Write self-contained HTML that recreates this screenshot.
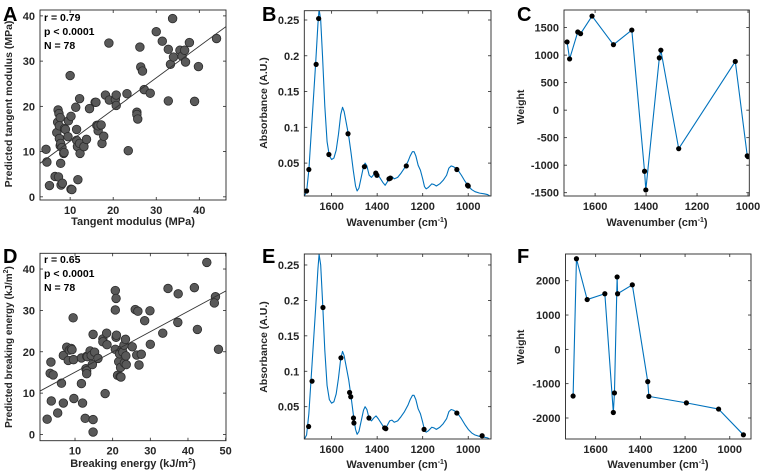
<!DOCTYPE html>
<html><head><meta charset="utf-8"><style>
html,body{margin:0;padding:0;background:#fff;}
svg{display:block;font-family:"Liberation Sans",Arial,sans-serif;}
.tk{font-size:11px;font-weight:bold;fill:#262626;}
.lab{font-size:11px;font-weight:bold;fill:#262626;}
.ylab{font-size:10.5px;font-weight:bold;fill:#262626;}
.pl{font-size:20px;font-weight:bold;fill:#000;}
.st{font-size:10.5px;font-weight:bold;fill:#000;}
</style></head><body>
<svg id="fig" width="760" height="475" viewBox="0 0 760 475">
<text class="pl" x="3" y="21">A</text>
<text class="pl" x="262" y="21">B</text>
<text class="pl" x="517" y="21">C</text>
<text class="pl" x="3" y="263">D</text>
<text class="pl" x="262" y="263">E</text>
<text class="pl" x="517" y="263">F</text>

<text class="ylab" transform="translate(12,104) rotate(-90)" text-anchor="middle">Predicted tangent modulus (MPa)</text>
<text class="lab" x="133" y="225" text-anchor="middle">Tangent modulus (MPa)</text>
<text class="st" x="44" y="21">r = 0.79</text>
<text class="st" x="44" y="35">p &lt; 0.0001</text>
<text class="st" x="44" y="49">N = 78</text>

<text class="ylab" style="font-size:10px" transform="translate(12,347) rotate(-90)" text-anchor="middle">Predicted breaking energy (kJ/m<tspan dy="-4" font-size="7">2</tspan><tspan dy="4">)</tspan></text>
<text class="lab" x="133" y="467" text-anchor="middle">Breaking energy (kJ/m<tspan dy="-4" font-size="7">2</tspan><tspan dy="4">)</tspan></text>
<text class="st" x="44" y="263">r = 0.65</text>
<text class="st" x="44" y="277">p &lt; 0.0001</text>
<text class="st" x="44" y="291">N = 78</text>

<text class="ylab" transform="translate(267,103) rotate(-90)" text-anchor="middle">Absorbance (A.U.)</text>
<text class="lab" x="397" y="226" text-anchor="middle">Wavenumber (cm<tspan dy="-4" font-size="7">-1</tspan><tspan dy="4">)</tspan></text>
<text class="ylab" transform="translate(267,347) rotate(-90)" text-anchor="middle">Absorbance (A.U.)</text>
<text class="lab" x="397" y="468" text-anchor="middle">Wavenumber (cm<tspan dy="-4" font-size="7">-1</tspan><tspan dy="4">)</tspan></text>

<text class="ylab" transform="translate(524,107) rotate(-90)" text-anchor="middle">Weight</text>
<text class="lab" x="657" y="226" text-anchor="middle">Wavenumber (cm<tspan dy="-4" font-size="7">-1</tspan><tspan dy="4">)</tspan></text>
<text class="ylab" transform="translate(524,347) rotate(-90)" text-anchor="middle">Weight</text>
<text class="lab" x="658" y="468" text-anchor="middle">Wavenumber (cm<tspan dy="-4" font-size="7">-1</tspan><tspan dy="4">)</tspan></text>
</svg>
<script>
// ---- data ----
const aX = [4.4,4.6,5.2,6.5,7.3,6.9,7.1,7.2,7.4,7.7,7.5,7.5,7.7,7.8,8.1,7.8,7.9,8.2,8.5,8.7,8.9,8.6,9.6,10,10.2,9.5,10.2,10.4,11.3,11.5,11.5,11.7,11.8,12.2,12.2,12.3,13.2,13.8,14.5,15.8,16,16.2,16.5,16.5,17.2,17.4,17.8,18.2,19,19.1,20.5,20.7,20.7,23.2,23.5,25.5,25.5,25.7,26.2,26.4,26.8,27.2,28.6,30,31.4,32.8,32.8,33.3,34,35.5,36,36.6,36.8,37.7,38.9,39.8,44,33.8];
const aY = [10.5,7.7,2.5,4.5,4.4,14.2,16.5,19.2,18.4,17.5,15.7,12.9,11.3,11.8,10.9,7.4,2.6,3,9.6,15.1,14.9,9.8,16.8,26.8,17.8,13.3,1.7,1.6,19.8,14.9,12.5,11.1,3.8,21.7,11.8,9.6,11.1,12.7,19.5,20.9,20.9,15.8,14.6,15.7,15.9,11.8,13.4,22.5,34,21.4,21.5,22.5,20.2,22.8,10.2,18.7,18.2,17.2,33.1,28.7,27.8,23.7,22.9,36.5,34.4,32.6,21.2,29.3,30.9,32.4,31.1,32.4,29.8,34.1,21.1,28.8,35,39.4];
const aFit = [0.70, 5.3];
const dX = [2.6,3.4,3.6,3.7,4.2,5.4,6.4,6.9,6.9,7.8,8.2,8.5,9.0,9.2,9.5,9.7,9.6,11.7,11.7,12,12.7,12.9,13.1,13.1,13.1,13.3,14,14.3,14.6,14.8,14.8,14.8,15.2,16.1,18,17.4,17.4,18.4,18.5,20.7,20.9,20.7,20.7,20.9,21,21.3,21.6,21.8,22,22.1,22.2,22.5,22.7,23,23.1,23.4,23.6,23.5,25.2,26,26.4,26.7,27,27.6,28.5,29.9,30,33.3,34.7,37.3,37.4,41.7,42.5,47.3,45,47,48.1];
const dY = [3.7,14.8,17.5,8.1,14.4,5.2,12.4,7.6,19.1,21.1,17.9,20.4,20.8,20.5,28.2,8.7,18.1,18.5,12.3,7.6,3.9,15.9,15.4,14.7,18.9,18.8,20.2,19.1,16.9,24.2,3.6,0.6,19.9,18.4,9.9,23.1,22.4,24.5,21.7,34.8,32.9,30.1,20.6,23.5,24,14.3,17.6,19.5,14,16.2,13.9,20.6,19.9,21.6,17.3,23,16.9,19,21.2,30.2,19.2,29.8,16.8,19.4,27.5,29.9,21.8,24.5,35.3,27.1,34,35.5,25.4,33.3,41.6,31.8,20.6];
const dFit = [0.49, 10.16];
const specWn = [1720,1710,1700,1690,1680,1670,1660,1655,1648,1640,1630,1620,1610,1600,1590,1580,1570,1560,1552,1545,1535,1525,1515,1505,1495,1488,1480,1470,1460,1453,1445,1435,1425,1415,1405,1395,1385,1375,1365,1355,1345,1335,1325,1310,1295,1280,1265,1255,1245,1238,1230,1220,1210,1200,1192,1185,1175,1160,1150,1140,1125,1110,1095,1085,1075,1065,1055,1045,1030,1015,1000,985,970,950,930,915,900];
const specAbs = [0.004,0.01,0.04,0.09,0.14,0.19,0.245,0.265,0.25,0.2,0.13,0.08,0.06,0.055,0.057,0.068,0.09,0.118,0.128,0.122,0.105,0.088,0.065,0.04,0.018,0.011,0.015,0.03,0.045,0.05,0.046,0.033,0.03,0.034,0.037,0.033,0.028,0.023,0.019,0.024,0.03,0.031,0.028,0.03,0.036,0.043,0.052,0.06,0.066,0.066,0.06,0.047,0.04,0.028,0.017,0.014,0.016,0.021,0.02,0.018,0.021,0.026,0.033,0.043,0.046,0.045,0.043,0.04,0.033,0.025,0.018,0.013,0.01,0.008,0.007,0.006,0.003];
const bWn = [1710,1700,1668,1657,1612,1528,1456,1406,1401,1348,1342,1272,1050,1003,1000];
const bAbs = [0.011,0.041,0.188,0.252,0.062,0.091,0.045,0.036,0.033,0.028,0.029,0.046,0.041,0.019,0.018];
const cWeight = [1240,931,1420,1390,1710,1190,1455,-1110,-1450,950,1090,-700,885,-830,-845];
const eWn = [1701,1686,1638,1559,1521,1516,1504,1502,1436,1367,1362,1194,1050,939];
const eAbs = [0.022,0.086,0.19,0.119,0.070,0.064,0.034,0.027,0.034,0.020,0.019,0.018,0.041,0.009];
const fWeight = [-1360,2640,1450,1620,-1840,-1270,2110,1620,1880,-940,-1370,-1560,-1740,-2490];
const ticksA_x=[10,20,30,40], ticksA_y=[0,10,20,30,40];
const ticksD_x=[10,20,30,40,50], ticksD_y=[0,10,20,30,40];
const ticksWn=[1600,1400,1200,1000];
const ticksAbs=[0.05,0.1,0.15,0.2,0.25], ticksAbsLbl=["0.05","0.1","0.15","0.2","0.25"];
const ticksC_y=[-1500,-1000,-500,0,500,1000,1500];
const ticksF_y=[-2000,-1000,0,1000,2000];

const NS="http://www.w3.org/2000/svg";
const svg=document.getElementById('fig');
function mk(tag,attrs,parent){const e=document.createElementNS(NS,tag);for(const k in attrs)e.setAttribute(k,attrs[k]);(parent||svg).appendChild(e);return e;}
function scale(d0,d1,r0,r1){return v=>r0+(v-d0)/(d1-d0)*(r1-r0);}

function axes(id,x0,x1,y0,y1,xd,yd,xt,xtl,yt,ytl){
  const g=mk('g',{});
  
  
  const sx=scale(xd[0],xd[1],x0,x1), sy=scale(yd[0],yd[1],y1,y0);
  xt.forEach((t,i)=>{const x=sx(t);
    const l1=mk('line',{x1:x,x2:x,y1:y1,y2:y1-3,stroke:'#262626','stroke-width':0.8},g);
    
    
    mk('line',{x1:x,x2:x,y1:y0,y2:y0+3,stroke:'#262626','stroke-width':0.8},g);
    const tx=mk('text',{x:x,y:y1+14,'text-anchor':'middle','class':'tk'},g);
    
    
    tx.textContent=xtl[i];});
  yt.forEach((t,i)=>{const y=sy(t);
    const l1=mk('line',{x1:x0,x2:x0+3,y1:y,y2:y,stroke:'#262626','stroke-width':0.8},g);
    
    
    mk('line',{x1:x1,x2:x1-3,y1:y,y2:y,stroke:'#262626','stroke-width':0.8},g);
    const tx=mk('text',{x:x0-5,y:y+4,'text-anchor':'end','class':'tk'},g);
    
    
    tx.textContent=ytl[i];});
  const box=mk('rect',{x:x0,y:y0,width:x1-x0,height:y1-y0,fill:'none',stroke:'#262626','stroke-width':0.9},g);
  
  
  const clip=mk('clipPath',{id:'clip-'+id});
  mk('rect',{x:x0,y:y0,width:x1-x0,height:y1-y0},clip);
  const plot=mk('g',{'clip-path':'url(#clip-'+id+')'});
  
  
  svg.insertBefore(plot,g);
  return {sx,sy,plot};
}

function scatter(id,ax,xs,ys,fit,xd){
  const n=Math.min(xs.length,ys.length);
  for(let i=0;i<n;i++){
    const c=mk('circle',{cx:ax.sx(xs[i]),cy:ax.sy(ys[i]),r:4.3,fill:'#595959',stroke:'#2b2b2b','stroke-width':0.8},ax.plot);
    
    
  }
  const l=mk('line',{x1:ax.sx(xd[0]),y1:ax.sy(fit[0]*xd[0]+fit[1]),x2:ax.sx(xd[1]),y2:ax.sy(fit[0]*xd[1]+fit[1]),stroke:'#333','stroke-width':0.9},ax.plot);
  
  
}
function line(id,ax,xs,ys){
  const n=Math.min(xs.length,ys.length);
  let d='';for(let i=0;i<n;i++)d+=(i?'L':'M')+ax.sx(xs[i]).toFixed(2)+','+ax.sy(ys[i]).toFixed(2);
  const p=mk('path',{d:d,fill:'none',stroke:'#0072BD','stroke-width':1.1,'stroke-linejoin':'round'},ax.plot);
  
  
}
function dots(id,ax,xs,ys){
  const n=Math.min(xs.length,ys.length);
  for(let i=0;i<n;i++){
    const c=mk('circle',{cx:ax.sx(xs[i]),cy:ax.sy(ys[i]),r:2.6,fill:'#000'},ax.plot);
    
    
  }
}

const axA=axes('a',40,226,10,200,[3,46.2],[-0.7,41.3],ticksA_x,ticksA_x,ticksA_y,ticksA_y);
scatter('a',axA,aX,aY,aFit,[3,46.2]);
const axD=axes('d',40,226,253.3,440.7,[0.7,50.1],[-1.5,43.8],ticksD_x,ticksD_x,ticksD_y,ticksD_y);
scatter('d',axD,dX,dY,dFit,[0.7,50.1]);

const axB=axes('b',304.3,491,10.7,196,[1720,900],[0.004,0.263],ticksWn,ticksWn,ticksAbs,ticksAbsLbl);
line('b',axB,specWn,specAbs);
dots('b',axB,bWn,bAbs);
const axE=axes('e',304.3,491,254,439,[1720,900],[0.0044,0.2655],ticksWn,ticksWn,ticksAbs,ticksAbsLbl);
line('e',axE,specWn,specAbs);
dots('e',axE,eWn,eAbs);

const axC=axes('c',564,749.3,10,196,[1722,995],[-1560,1820],ticksWn,ticksWn,ticksC_y,ticksC_y);
line('c',axC,bWn,cWeight);
dots('c',axC,bWn,cWeight);
const axF=axes('f',565.5,751,254,439,[1735,905],[-2612,2778],ticksWn,ticksWn,ticksF_y,ticksF_y);
line('f',axF,eWn,fWeight);
dots('f',axF,eWn,fWeight);
</script>
</body></html>
